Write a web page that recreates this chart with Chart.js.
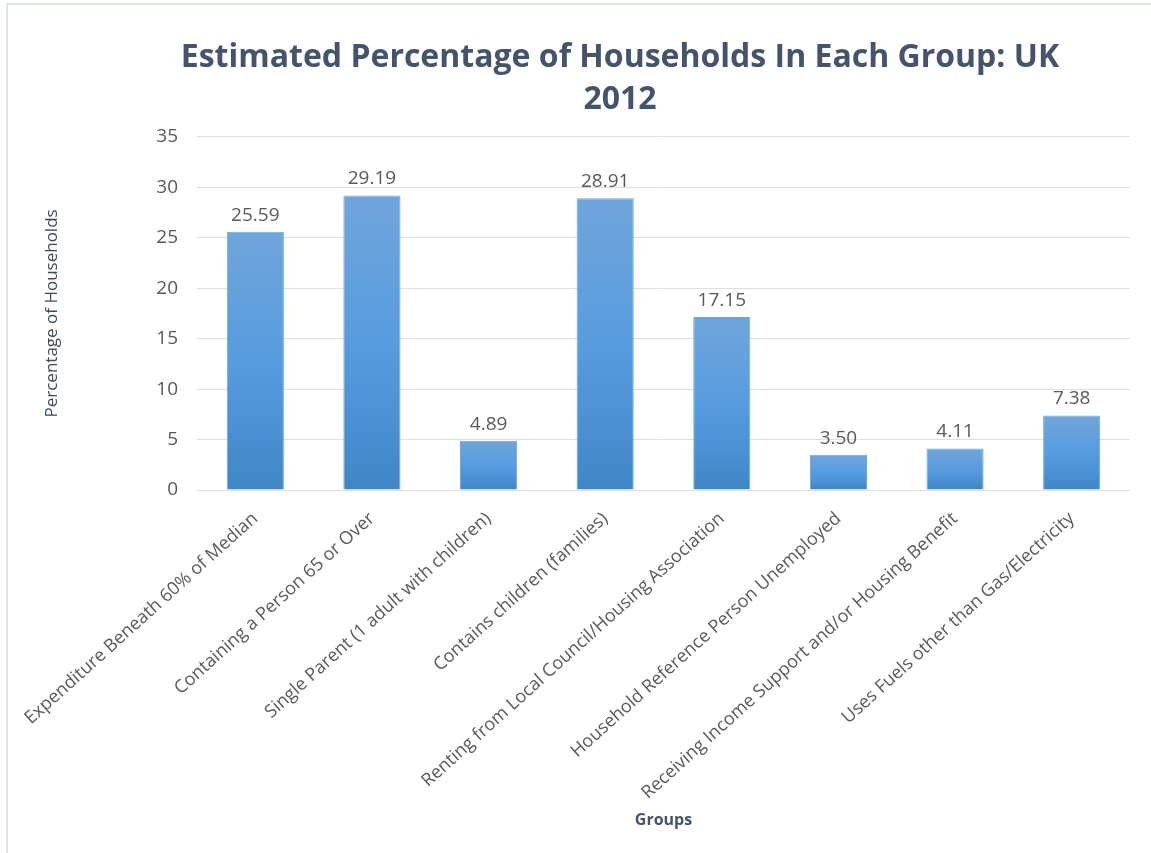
<!DOCTYPE html>
<html>
<head>
<meta charset="utf-8">
<title>Households in each group, UK 2012</title>
<script src="https://cdn.jsdelivr.net/npm/chart.js@4.4.1/dist/chart.umd.min.js"></script>
<style>
  html, body { margin: 0; padding: 0; background: #fff; }
  #wrap { width: 1151px; height: 853px; position: relative; }
</style>
</head>
<body>
<div id="wrap"><canvas id="groupChart"></canvas></div>
<script>
// survey groups and the share of households in each (%)
const groups = [
  'Expenditure Beneath 60% of Median',
  'Containing a Person 65 or Over',
  'Single Parent (1 adult with children)',
  'Contains children (families)',
  'Renting from Local Council/Housing Association',
  'Household Reference Person Unemployed',
  'Receiving Income Support and/or Housing Benefit',
  'Uses Fuels other than Gas/Electricity'
];
const percentages = [25.59, 29.19, 4.89, 28.91, 17.15, 3.50, 4.11, 7.38];
const yMin = 0;
const yMax = 35;
const yStep = 5;

const titleColor = '#44546A';
const tickColor = '#595959';

// vertical gradient per bar: lighter at the top, deeper blue at the base
function barFill(context) {
  const chart = context.chart;
  if (!chart.chartArea || context.type !== 'data') return '#5B9BD5';
  const y = chart.scales.y;
  const top = y.getPixelForValue(context.raw);
  const base = y.getPixelForValue(0);
  const g = chart.ctx.createLinearGradient(0, top, 0, base);
  g.addColorStop(0, '#70A5DB');
  g.addColorStop(0.5, '#579CDF');
  g.addColorStop(1, '#3F86C7');
  return g;
}

// white background and the thin frame round the chart
const frame = {
  id: 'frame',
  beforeDraw(chart) {
    const ctx = chart.ctx;
    ctx.save();
    ctx.fillStyle = '#fff';
    ctx.fillRect(0, 0, chart.width, chart.height);
    ctx.strokeStyle = '#DCE4EC';
    ctx.lineWidth = 2;
    ctx.strokeRect(7, 4, chart.width + 20, chart.height + 20);
    ctx.restore();
  }
};

// keep the title centred over the plot rather than the whole canvas
const titleShift = {
  id: 'titleShift',
  afterLayout(chart) {
    const t = chart.titleBlock;
    if (t) t.left += 80;
  }
};

// value printed above each bar
const valueLabels = {
  id: 'valueLabels',
  afterDatasetsDraw(chart) {
    const ctx = chart.ctx;
    const meta = chart.getDatasetMeta(0);
    ctx.save();
    ctx.font = '19px "Open Sans"';
    ctx.fillStyle = tickColor;
    ctx.textAlign = 'center';
    ctx.textBaseline = 'bottom';
    meta.data.forEach((bar, i) => {
      ctx.fillText(percentages[i].toFixed(2), bar.x, bar.y - 7);
    });
    ctx.restore();
  }
};

new Chart(document.getElementById('groupChart').getContext('2d'), {
  type: 'bar',
  data: {
    labels: groups,
    datasets: [{
      label: 'Percentage of Households',
      data: percentages,
      backgroundColor: barFill,
      borderColor: '#6EA6DC',
      borderWidth: 1,
      barPercentage: 0.49,
      categoryPercentage: 1
    }]
  },
  options: {
    responsive: true,
    maintainAspectRatio: false,
    animation: false,
    layout: {
      padding: { top: 4, left: 30, right: 21, bottom: 15 }
    },
    plugins: {
      legend: { display: false },
      tooltip: { enabled: false },
      title: {
        display: true,
        text: ['Estimated Percentage of Households In Each Group: UK', '2012'],
        color: titleColor,
        font: { family: '"Open Sans"', size: 32, weight: 'bold', lineHeight: 1.31 },
        padding: { top: 33, bottom: 16 }
      }
    },
    scales: {
      x: {
        grid: { display: false },
        border: { display: false },
        ticks: {
          color: tickColor,
          font: { family: '"Open Sans"', size: 18 },
          minRotation: 42,
          maxRotation: 42,
          autoSkip: false,
          padding: 10
        },
        title: {
          display: true,
          text: 'Groups',
          color: titleColor,
          font: { family: '"Open Sans"', size: 16, weight: 'bold', lineHeight: 1.2 },
          padding: { top: 0, bottom: 8 }
        },
        afterFit(scale) { scale.height = 348; }
      },
      y: {
        min: yMin,
        max: yMax,
        grid: { color: '#DEDEDE', drawTicks: false },
        border: { display: false },
        ticks: {
          stepSize: yStep,
          color: tickColor,
          font: { family: '"Open Sans"', size: 19 },
          padding: 19
        },
        title: {
          display: true,
          text: 'Percentage of Households',
          color: '#3A4A5F',
          font: { family: '"Open Sans"', size: 17, lineHeight: 1.2 },
          padding: { top: 12, bottom: 0 }
        },
        afterFit(scale) { scale.width = 167; }
      }
    }
  },
  plugins: [frame, titleShift, valueLabels]
});
</script>
</body>
</html>
